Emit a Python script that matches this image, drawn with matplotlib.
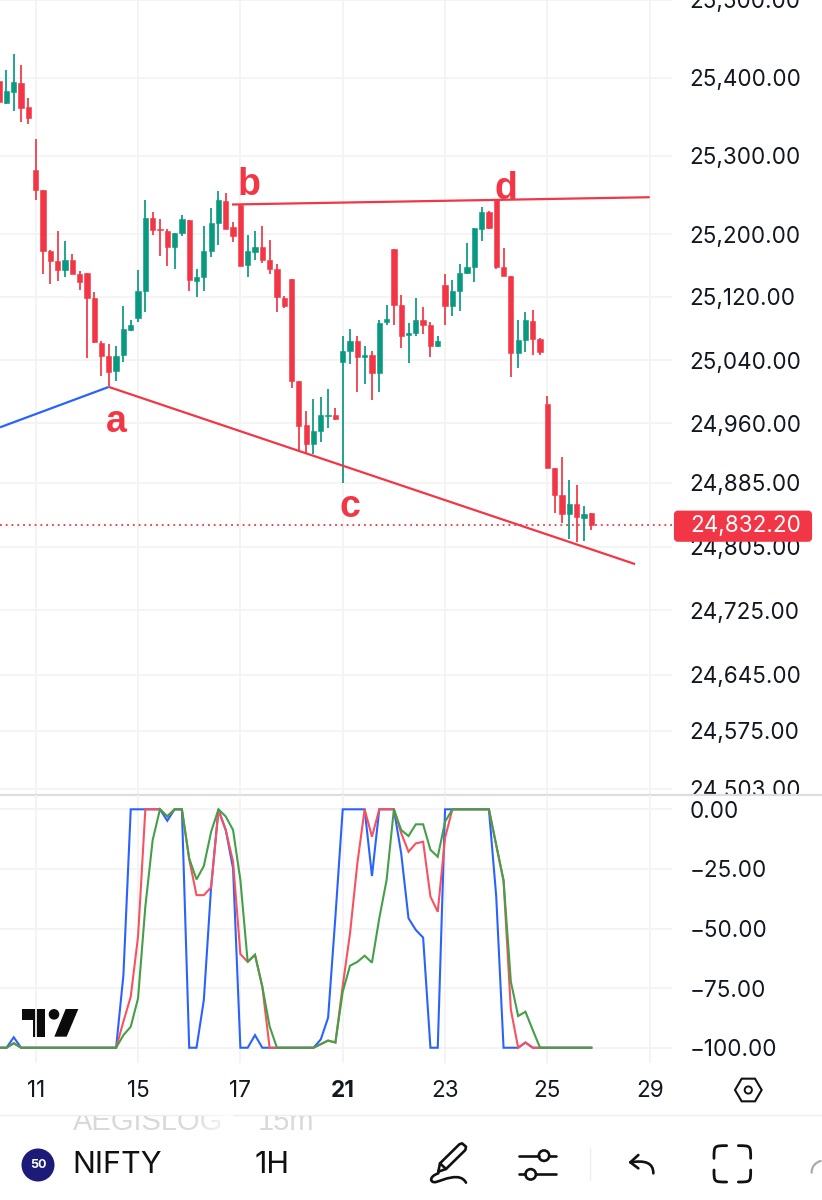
import numpy as np
import matplotlib
matplotlib.use("Agg")
import matplotlib.pyplot as plt
from matplotlib.patches import Circle, FancyBboxPatch, Polygon, PathPatch, Rectangle
from matplotlib.path import Path
from matplotlib.ticker import NullLocator

# ---------- data ----------
candle_index = list(range(-5, 77))
opens = [25396,25367,25382,25393,25362,25282,25256,25179,25166,25154,25167,25149,25151,25119,25062,25045,25026,25046,25078,25093,
         25127,25220,25206,25204,25184,25201,25218,25140,25145,25178,25214,25242,25209,25237,25161,25177,25184,25167,25155,25119,
         25143,25013,24958,24934,24950,24969,24971,25037,25051,25064,25044,25046,25024,25088,25181,25110,25072,25074,25091,25085,
         25058,25135,25108,25127,25150,25158,25207,25228,25244,25158,25147,25049,25065,25090,25067,24985,24904,24870,24846,24859,24841,24847]
highs = [25404,25410,25431,25416,25374,25322,25256,25180,25204,25191,25175,25153,25151,25126,25064,25060,25058,25108,25091,25154,
         25244,25228,25219,25207,25202,25224,25218,25156,25210,25233,25255,25252,25215,25237,25199,25204,25210,25193,25162,25121,
         25143,25013,24976,24991,24993,25004,24979,25070,25079,25070,25058,25052,25091,25110,25181,25123,25087,25119,25107,25088,
         25070,25149,25141,25162,25188,25208,25234,25229,25244,25182,25147,25091,25101,25103,25068,24994,24904,24918,24888,24882,24856,24847]
lows = [25365,25366,25357,25343,25341,25244,25149,25136,25140,25145,25149,25129,25042,25062,25020,25007,25013,25037,25077,25088,
        25101,25199,25172,25159,25156,25198,25128,25120,25128,25171,25186,25207,25190,25159,25145,25167,25163,25149,25101,25106,
        25005,24927,24922,24921,24937,24954,24964,24885,25035,25000,25010,24989,25000,25084,25085,25055,25036,25071,25073,25044,
        25056,25084,25096,25102,25149,25139,25191,25206,25155,25147,25019,25030,25050,25046,25046,24904,24847,24834,24815,24811,24812,24826]
closes = [25369,25383,25395,25361,25348,25256,25179,25166,25154,25167,25149,25139,25119,25063,25045,25025,25045,25079,25085,25128,
          25220,25205,25205,25184,25202,25219,25142,25146,25178,25214,25243,25207,25198,25159,25178,25184,25167,25155,25120,25109,
          25013,24957,24934,24950,24970,24971,24965,25051,25064,25044,25046,25024,25087,25092,25110,25071,25074,25091,25085,25058,
          25064,25109,25127,25150,25158,25208,25228,25208,25158,25147,25049,25065,25091,25067,25050,24904,24870,24846,24859,24842,24846,24832.2]

osc_blue = [-100,-100,-95.6,-100,-100,-100,-100,-100,-100,-100,-100,-100,-100,-100,-100,-100,-100,-69.5,0,0,0,
            0,0,-4.8,0,0,-100,-100,-80,-32.4,0,-8.7,-24.8,-100,-100,-94.7,-100,-100,-100,-100,-100,
            -100,-100,-100,-96.5,-87.4,-45,0,0,0,0,-28,0,0,0,-18.5,-45.7,-50.6,-53.8,-100,-100,
            0,0,0,0,0,0,0,-36.6,-100,-100,-100,-97.8,-100,-100,-100,-100,-100,-100,-100,-100,-100]
osc_red = [-100,-100,-98,-100,-100,-100,-100,-100,-100,-100,-100,-100,-100,-100,-100,-100,-100,-89,-78.6,-53.4,0,
           0,0,-3,0,0,-21,-36,-36,-32.7,-0.5,-8.7,-22,-60.7,-64,-61,-74.4,-100,-100,-100,-100,
           -100,-100,-100,-98.5,-97,-97.8,-74,-52,-22.7,0,-11.5,0,0,0,-10,-17.8,-14.3,-13.6,-36.6,-43,
           -12,0,0,0,0,0,0,-15,-30,-84,-100,-97.8,-100,-100,-100,-100,-100,-100,-100,-100,-100]
osc_green = [-100,-100,-98.2,-100,-100,-100,-100,-100,-100,-100,-100,-100,-100,-100,-100,-100,-100,-94.7,-91.2,-79.3,-40.8,
             -12.9,0,-3,0,0,-20.6,-29.4,-23.8,-9.4,0,-3,-8.7,-29.7,-64,-61,-74.4,-91,-100,-100,-100,
             -100,-100,-100,-98.5,-97,-97.8,-76.5,-65.6,-64,-61.4,-64.3,-45.7,-29.7,0,-8.7,-11.2,-6.3,-6.3,-17,-19.9,
             -5.2,0,0,0,0,0,0,-15,-29.7,-72.3,-86.7,-84.9,-92.6,-100,-100,-100,-100,-100,-100,-100,-100]

price_ticks = [25500, 25400, 25300, 25200, 25120, 25040, 24960, 24885, 24805, 24725, 24645, 24575, 24503]
osc_ticks = [0, -25, -50, -75, -100]
date_positions = [0, 14, 28, 42, 56, 70, 84]
date_labels = ["11", "15", "17", "21", "23", "25", "29"]

last_price = 24832.20
trend_blue_x, trend_blue_y = [-4.88, 10], [24955, 25006]
trend_ac_x, trend_ac_y = [10, 82], [25006, 24783]
trend_bd_x, trend_bd_y = [26.85, 84], [25237.7, 25247]

# ---------- style / layout ----------
RED, GREEN, BLUE = "#F23645", "#089981", "#2962FF"
OSC_RED, OSC_GREEN = "#F7525F", "#43A047"
GRID = "#F3F3F5"
TXT = "#131722"
W, H = 822, 1200
TICK_FS = 16.2
plt.rcParams["font.family"] = ["Inter", "DejaVu Sans"]
fig = plt.figure(figsize=(W / 100, H / 100), dpi=100, facecolor="white")

def rect(x0, y0, x1, y1):
    return [x0 / W, 1 - y1 / H, (x1 - x0) / W, (y1 - y0) / H]

PX_I0, PX_STEP = 35.7, 7.31
xlim = ((0 - PX_I0) / PX_STEP, (672 - PX_I0) / PX_STEP)

# ---------- price pane ----------
ax = fig.add_axes(rect(0, 0, 672, 794.5), zorder=1)
ax.set_yscale("log")
ax.set_xlim(*xlim)
ax.set_ylim(24496, 25500)
x = np.array(candle_index)
o, h, l, c = map(np.array, (opens, highs, lows, closes))
cols = [GREEN if cc >= oo else RED for oo, cc in zip(o, c)]
ax.vlines(x, l, h, colors=cols, linewidth=1.25, zorder=3)
ax.bar(x, np.abs(c - o), bottom=np.minimum(o, c), width=0.72, color=cols,
       edgecolor=cols, linewidth=0.4, zorder=4)
ax.plot(trend_blue_x, trend_blue_y, color=BLUE, lw=1.6, zorder=5, solid_capstyle="butt")
ax.plot(trend_ac_x, trend_ac_y, color=RED, lw=1.6, zorder=5, solid_capstyle="butt")
ax.plot(trend_bd_x, trend_bd_y, color=RED, lw=1.6, zorder=5, solid_capstyle="butt")
ax.axhline(last_price, color=RED, lw=1.3, ls=(0, (1.0, 2.2)), zorder=2)

ax.yaxis.tick_right()
ax.set_yticks(price_ticks)
ax.set_yticklabels([f"{v:,.2f}" for v in price_ticks], fontsize=TICK_FS, color=TXT)
ax.yaxis.set_minor_locator(NullLocator())
ax.set_xticks(date_positions)
ax.tick_params(axis="both", length=0, labelbottom=False)
ax.tick_params(axis="y", pad=12.5)
ax.grid(True, color=GRID, lw=1.3)
ax.set_axisbelow(True)
for s in ax.spines.values():
    s.set_visible(False)

# ---------- overlay: separators, badge, annotations, toolbar ----------
ov = fig.add_axes([0, 0, 1, 1], zorder=2, facecolor="none")
ov.set_xlim(0, W)
ov.set_ylim(H, 0)
ov.axis("off")
ov.add_patch(Rectangle((672, 795), 150, 12, fc="white", ec="none", zorder=1))
ov.plot([0, W], [794.5, 794.5], color="#DCDDE0", lw=1.6, zorder=2)
ov.plot([0, W], [1115, 1115], color="#EEEEEE", lw=1.0, zorder=2)

# price badge
ov.add_patch(FancyBboxPatch((676, 512.7), 134, 27, boxstyle="round,pad=0,rounding_size=2",
                            fc=RED, ec=RED, lw=3, zorder=3))
ov.text(690, 526, f"{last_price:,.2f}", color="white", fontsize=TICK_FS, va="center", ha="left", zorder=4)

# wave labels
for s, px, py in [("a", 116, 418), ("b", 249, 181), ("c", 350, 503), ("d", 506, 185)]:
    ov.text(px, py, s, color=RED, fontsize=27, fontweight="bold", family="Liberation Sans",
            ha="center", va="center_baseline", zorder=6)

# TradingView logo
def zx3(p):
    return [(a / 3, 790 + b / 3) for a, b in p]
ov.add_patch(Polygon(zx3([(67, 657), (135, 657), (135, 740), (100, 740), (100, 690), (67, 690)]), fc="#0B0B0B", ec="none", zorder=6))
ov.add_patch(Polygon(zx3([(197, 657), (235, 657), (200, 740), (163, 740)]), fc="#0B0B0B", ec="none", zorder=6))
ov.add_patch(Circle((162 / 3, 790 + 673 / 3), 5.3, fc="#0B0B0B", ec="none", zorder=6))

# hexagon settings icon
hexp = [(405, 180), (425, 146), (465, 146), (485, 180), (465, 214), (425, 214)]
ov.add_patch(Polygon([(600 + a / 3, 1030 + b / 3) for a, b in hexp], closed=True, fc="none", ec="#111111", lw=1.5, joinstyle="miter"))
ov.add_patch(Circle((748.3, 1090), 3.6, fc="none", ec="#111111", lw=1.4))

# symbol row
clip = Rectangle((0, 1116), W, 84, transform=ov.transData, fc="none", ec="none")
ov.add_patch(clip)
for s, px in [("AEGISLOG", 73), ("15m", 258)]:
    t = ov.text(px, 1122, s, color="#D9D9D9", fontsize=21, va="center", ha="left", family="Liberation Sans")
    t.set_clip_on(True)
    t.set_clip_path(clip)
grad = np.ones((1, 40, 4))
grad[0, :, 3] = np.linspace(0, 0.85, 40)
ov.imshow(grad, extent=(190, 232, 1135, 1105), aspect="auto", zorder=3, interpolation="bilinear")
ov.set_xlim(0, W)
ov.set_ylim(H, 0)

ov.add_patch(Circle((38, 1165), 16.5, fc="#1C1C78", ec="none"))
ov.text(38, 1165.5, "50", color="white", fontsize=9, fontweight="bold", ha="center", va="center")
ov.text(72, 1165, "NIFTY", color="#111111", fontsize=22, ha="left", va="center")
ov.text(255, 1165, "1H", color="#111111", fontsize=22, ha="left", va="center")

def ic(p):
    return [(410 + a / 3, 1130 + b / 3) for a, b in p]
def stroke(p, codes=None, color="#111111", lw=1.9):
    ov.add_patch(PathPatch(Path(ic(p), codes), fc="none", ec=color, lw=lw, capstyle="round", joinstyle="round", zorder=6))
M, L, C3 = Path.MOVETO, Path.LINETO, Path.CURVE4
# pen
stroke([(85, 125), (90, 100), (148, 43), (156, 40), (168, 50), (166, 60), (108, 117), (85, 125)])
stroke([(90, 100), (108, 117)])
# squiggle
stroke([(85, 130), (55, 140), (60, 160), (78, 156), (100, 150), (150, 125), (168, 158)], [M, C3, C3, C3, C3, C3, C3])
# sliders
stroke([(328, 77), (388, 77)]); stroke([(417, 77), (438, 77)])
stroke([(328, 133), (346, 133)]); stroke([(378, 133), (438, 133)])
for a, b in [(402, 77), (362, 133)]:
    ov.add_patch(Circle((410 + a / 3, 1130 + b / 3), 5.2, fc="none", ec="#111111", lw=1.9, zorder=6))
# divider
stroke([(540, 55), (540, 150)], color="#EFEFEF", lw=1.0)
# undo
stroke([(685, 75), (661, 97), (685, 115)])
stroke([(661, 97), (705, 90), (730, 98), (730, 130)], [M, C3, C3, C3])
# fullscreen corners
stroke([(912, 85), (912, 47), (912, 47), (950, 47)], [M, C3, C3, C3], lw=2.0)
stroke([(985, 47), (1022, 47), (1022, 47), (1022, 85)], [M, C3, C3, C3], lw=2.0)
stroke([(912, 120), (912, 156), (912, 156), (950, 156)], [M, C3, C3, C3], lw=2.0)
stroke([(985, 156), (1022, 156), (1022, 156), (1022, 120)], [M, C3, C3, C3], lw=2.0)
# partial arc at the right edge
stroke([(1205, 128), (1205, 110), (1215, 98), (1232, 93)], [M, C3, C3, C3], color="#AAAAAA", lw=1.6)

# ---------- oscillator pane ----------
ax2 = fig.add_axes(rect(0, 795, 672, 1063), zorder=3, facecolor="none")
ax2.set_xlim(*xlim)
ax2.set_ylim(-106.4, 6.0)
ax2.plot(candle_index, osc_blue, color=BLUE, lw=1.5, zorder=3, solid_joinstyle="miter")
ax2.plot(candle_index, osc_red, color=OSC_RED, lw=1.5, zorder=4, solid_joinstyle="miter")
ax2.plot(candle_index, osc_green, color=OSC_GREEN, lw=1.5, zorder=5, solid_joinstyle="miter")
ax2.yaxis.tick_right()
ax2.set_yticks(osc_ticks)
ax2.set_yticklabels([f"{v:.2f}".replace("-", "\u2212") for v in osc_ticks], fontsize=TICK_FS, color=TXT)
ax2.set_xticks(date_positions)
ax2.set_xticklabels(date_labels, fontsize=TICK_FS, color=TXT)
for lab, txt in zip(ax2.get_xticklabels(), date_labels):
    if txt == "21":
        lab.set_fontweight("bold")
ax2.tick_params(axis="both", length=0)
ax2.tick_params(axis="y", pad=12.5)
ax2.tick_params(axis="x", pad=12.5)
ax2.grid(True, color=GRID, lw=1.3)
ax2.set_axisbelow(True)
for s in ax2.spines.values():
    s.set_visible(False)

fig.savefig("out.png", dpi=100, facecolor="white")
